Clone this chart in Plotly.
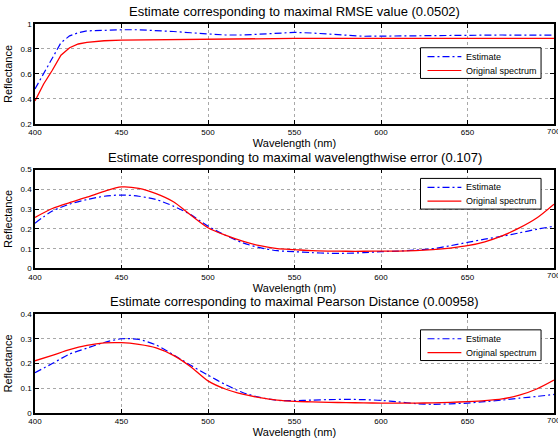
import plotly.graph_objects as go

# ---------- data ----------
wl1 = [400, 405, 410, 415, 420, 425, 430, 440, 450, 460, 470, 480, 490, 500, 510, 520, 530, 540, 550,
       560, 570, 580, 590, 600, 610, 620, 630, 640, 650, 660, 670, 680, 690, 700]
est1 = [0.48, 0.60, 0.73, 0.85, 0.905, 0.93, 0.945, 0.952, 0.954, 0.954, 0.95, 0.94, 0.93, 0.918, 0.912,
        0.912, 0.918, 0.926, 0.933, 0.928, 0.918, 0.908, 0.902, 0.903, 0.905, 0.908, 0.91, 0.912, 0.914,
        0.913, 0.912, 0.911, 0.911, 0.911]
orig1 = [0.385, 0.52, 0.63, 0.75, 0.81, 0.84, 0.853, 0.866, 0.871, 0.873, 0.875, 0.877, 0.878, 0.88, 0.881,
         0.882, 0.883, 0.884, 0.885, 0.885, 0.885, 0.885, 0.885, 0.885, 0.885, 0.885, 0.885, 0.885, 0.885,
         0.885, 0.885, 0.885, 0.885, 0.885]

wl = [400, 410, 420, 430, 440, 450, 460, 470, 480, 490, 500, 510, 520, 530, 540, 550, 560, 570, 580,
      590, 600, 610, 620, 630, 640, 650, 660, 670, 680, 690, 700]
est2 = [0.229, 0.29, 0.325, 0.348, 0.365, 0.371, 0.365, 0.348, 0.315, 0.272, 0.214, 0.168, 0.13, 0.105,
        0.09, 0.085, 0.08, 0.077, 0.077, 0.08, 0.085, 0.088, 0.093, 0.10, 0.115, 0.132, 0.148, 0.163, 0.18,
        0.198, 0.213]
orig2 = [0.258, 0.303, 0.333, 0.36, 0.39, 0.412, 0.405, 0.378, 0.337, 0.27, 0.206, 0.168, 0.138, 0.115,
         0.10, 0.095, 0.09, 0.088, 0.087, 0.087, 0.088, 0.088, 0.09, 0.095, 0.103, 0.115, 0.135, 0.165, 0.205,
         0.255, 0.325]
est3 = [0.163, 0.2, 0.238, 0.262, 0.285, 0.30, 0.297, 0.275, 0.235, 0.193, 0.153, 0.115, 0.083, 0.063,
        0.051, 0.05, 0.052, 0.054, 0.055, 0.054, 0.051, 0.045, 0.038, 0.035, 0.037, 0.04, 0.046, 0.052,
        0.06, 0.067, 0.075]
orig3 = [0.211, 0.233, 0.256, 0.273, 0.283, 0.284, 0.277, 0.263, 0.233, 0.187, 0.13, 0.097, 0.076, 0.062,
         0.052, 0.047, 0.045, 0.043, 0.042, 0.041, 0.04, 0.04, 0.04, 0.041, 0.043, 0.046, 0.05, 0.057,
         0.072, 0.097, 0.133]

titles = ["Estimate corresponding to maximal RMSE value (0.0502)",
          "Estimate corresponding to maximal wavelengthwise error (0.107)",
          "Estimate corresponding to maximal Pearson Distance (0.00958)"]
legend_names = ["Estimate", "Original spectrum"]
xticks = [400, 450, 500, 550, 600, 650, 700]
yticks = [[0.2, 0.4, 0.6, 0.8, 1], [0, 0.1, 0.2, 0.3, 0.4, 0.5], [0, 0.1, 0.2, 0.3, 0.4]]
yranges = [[0.2, 1], [0, 0.5], [0, 0.4]]

FONT = "Liberation Sans, Arial, sans-serif"
W, H = 558, 438
ML, MR, MT, MB = 35, 2, 24, 21
PW = W - ML - MR
PH = H - MT - MB
panels_px = [(24, 125), (171, 271), (317, 417)]
legend_top_px = [48, 180, 333]
BLUE, RED = "#0000FF", "#FF0000"
DASH = "7px,3px,2px,3px"


def px_x(px):
    return (px - ML) / PW


def px_y(px):
    return 1 - (px - MT) / PH


fig = go.Figure()
series = [(wl1, est1, orig1, "linear"), (wl, est2, orig2, "spline"), (wl, est3, orig3, "spline")]
for i, (x, e, o, shape) in enumerate(series):
    n = "" if i == 0 else str(i + 1)
    fig.add_trace(go.Scatter(x=x, y=e, mode="lines", name=legend_names[0], xaxis="x" + n, yaxis="y" + n,
                             showlegend=False,
                             line=dict(color=BLUE, width=1.2, dash=DASH, shape=shape, smoothing=0.8)))
    fig.add_trace(go.Scatter(x=x, y=o, mode="lines", name=legend_names[1], xaxis="x" + n,
                             yaxis="y" + n, showlegend=False,
                             line=dict(color=RED, width=1.3, shape=shape, smoothing=0.8)))

layout = dict(width=W, height=H, margin=dict(l=ML, r=MR, t=MT, b=MB),
              paper_bgcolor="white", plot_bgcolor="white", font=dict(family=FONT, color="black"),
              showlegend=False)
axis_common = dict(showline=True, linecolor="black", linewidth=1.5, mirror="ticks", ticks="inside",
                   ticklen=4, tickcolor="black", showgrid=True, gridcolor="#a8a8a8", griddash="dot",
                   gridwidth=1, zeroline=False, tickfont=dict(size=8, family=FONT))
annotations = []
shapes = []
for i in range(3):
    n = "" if i == 0 else str(i + 1)
    top, bot = panels_px[i]
    layout["xaxis" + n] = dict(axis_common, range=[400, 700], tickvals=xticks,
                               domain=[0, 1], anchor="y" + n,
                               title=dict(text="Wavelength (nm)", font=dict(size=11), standoff=2))
    layout["yaxis" + n] = dict(axis_common, range=yranges[i], tickvals=yticks[i],
                               domain=[px_y(bot), px_y(top)], anchor="x" + n,
                               title=dict(text="Reflectance", font=dict(size=11), standoff=6))
    annotations.append(dict(text=titles[i], x=0.5, xref="paper", y=px_y(top), yref="paper",
                            yanchor="bottom", yshift=3, showarrow=False,
                            font=dict(size=13, family=FONT)))
    # last x tick label (runs past the page edge as in the reference)
    annotations.append(dict(text=str(xticks[-1]), x=xticks[-1], xref="x" + n, y=px_y(bot), yref="paper",
                            yanchor="top", yshift=-1, showarrow=False, xanchor="center",
                            font=dict(size=8, family=FONT)))
    # legend box
    lt = legend_top_px[i]
    shapes.append(dict(type="rect", xref="paper", yref="paper", x0=px_x(422), x1=px_x(543),
                       y0=px_y(lt + 31), y1=px_y(lt), fillcolor="white",
                       line=dict(color="black", width=1)))
    for j, (col, dash) in enumerate([(BLUE, DASH), (RED, "solid")]):
        yy = px_y(lt + 9 + 14 * j)
        shapes.append(dict(type="line", xref="paper", yref="paper", x0=px_x(429), x1=px_x(463),
                           y0=yy, y1=yy, line=dict(color=col, width=1.2, dash=dash)))
        annotations.append(dict(text=legend_names[j], x=px_x(466), xref="paper", y=yy, yref="paper",
                                xanchor="left", yanchor="middle", showarrow=False,
                                font=dict(size=9, family=FONT)))
layout["annotations"] = annotations
layout["shapes"] = shapes
fig.update_layout(**layout)
fig.write_html("out.html")
